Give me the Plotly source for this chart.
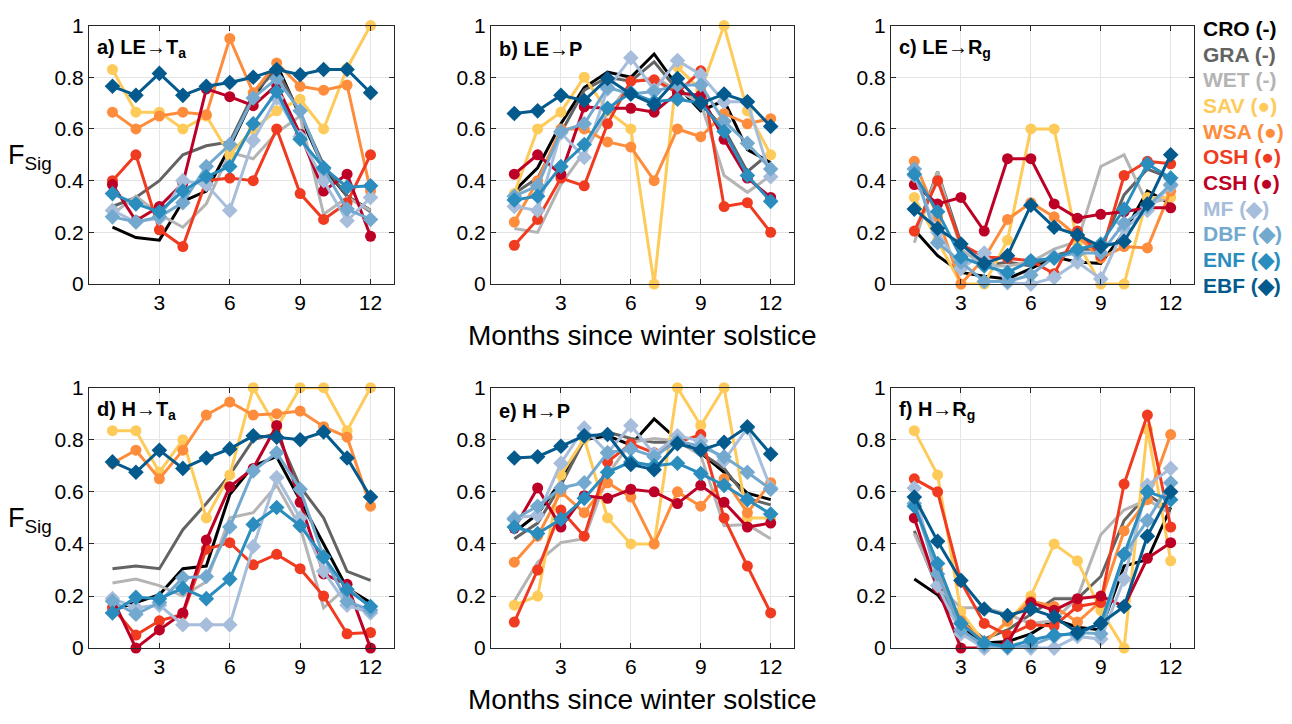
import plotly.graph_objects as go

months = list(range(1, 13))
classes = ["CRO", "GRA", "WET", "SAV", "WSA", "OSH", "CSH", "MF", "DBF", "ENF", "EBF"]
legend_labels = ["CRO (-)", "GRA (-)", "WET (-)", "SAV (●)", "WSA (●)", "OSH (●)",
                 "CSH (●)", "MF (◆)", "DBF (◆)", "ENF (◆)", "EBF (◆)"]
colors = ["#000000", "#636363", "#b4b4b4", "#fecb5a", "#fd8d3c", "#f03b20",
          "#bd0026", "#a6bddb", "#74a9cf", "#2b8cbe", "#045a8d"]
symbols = [None, None, None, "circle", "circle", "circle", "circle",
           "diamond", "diamond", "diamond", "diamond"]
xticks = [3, 6, 9, 12]
yticks = [0, 0.2, 0.4, 0.6, 0.8, 1]
panel_titles = ["a) LE→T<sub>a</sub>", "b) LE→P", "c) LE→R<sub>g</sub>",
                "d) H→T<sub>a</sub>", "e) H→P", "f) H→R<sub>g</sub>"]
x_title = "Months since winter solstice"
y_title = "F<sub>Sig</sub>"

# a) LE -> Ta
le_ta = {
    "CRO": [0.22, 0.18, 0.17, 0.32, 0.36, 0.53, 0.72, 0.85, 0.65, 0.45, 0.34, 0.285],
    "GRA": [0.30, 0.335, 0.40, 0.50, 0.535, 0.55, 0.735, 0.83, 0.66, 0.46, 0.34, 0.28],
    "WET": [0.27, 0.34, 0.27, 0.22, 0.31, 0.51, 0.485, 0.585, 0.65, 0.27, 0.335, 0.285],
    "SAV": [0.83, 0.665, 0.665, 0.60, 0.65, 0.50, 0.60, 0.67, 0.715, 0.60, 0.835, 1.0],
    "WSA": [0.665, 0.60, 0.65, 0.665, 0.655, 0.95, 0.74, 0.855, 0.765, 0.75, 0.77, 0.36],
    "OSH": [0.40, 0.50, 0.21, 0.145, 0.40, 0.41, 0.40, 0.60, 0.35, 0.25, 0.315, 0.50],
    "CSH": [0.385, 0.245, 0.30, 0.39, 0.755, 0.725, 0.69, 0.77, 0.58, 0.36, 0.425, 0.185],
    "MF":  [0.285, 0.24, 0.255, 0.40, 0.385, 0.285, 0.555, 0.72, 0.57, 0.40, 0.245, 0.335],
    "DBF": [0.26, 0.24, 0.26, 0.315, 0.455, 0.54, 0.72, 0.795, 0.67, 0.445, 0.29, 0.25],
    "ENF": [0.35, 0.31, 0.28, 0.36, 0.415, 0.455, 0.62, 0.745, 0.56, 0.45, 0.375, 0.38],
    "EBF": [0.765, 0.73, 0.815, 0.73, 0.765, 0.78, 0.80, 0.83, 0.81, 0.83, 0.83, 0.74],
}

# b) LE -> P
le_p = {
    "CRO": [0.36, 0.45, 0.62, 0.76, 0.82, 0.80, 0.89, 0.765, 0.67, 0.71, 0.52, 0.47],
    "GRA": [0.35, 0.41, 0.585, 0.75, 0.80, 0.785, 0.86, 0.75, 0.70, 0.60, 0.435, 0.51],
    "WET": [0.215, 0.20, 0.385, 0.51, 0.66, 0.78, 0.80, 0.75, 0.70, 0.42, 0.355, 0.42],
    "SAV": [0.35, 0.60, 0.665, 0.80, 0.67, 0.60, 0.0, 0.84, 0.75, 1.0, 0.67, 0.50],
    "WSA": [0.24, 0.40, 0.60, 0.60, 0.55, 0.53, 0.40, 0.60, 0.57, 0.66, 0.62, 0.64],
    "OSH": [0.15, 0.25, 0.41, 0.38, 0.62, 0.785, 0.79, 0.74, 0.825, 0.30, 0.315, 0.20],
    "CSH": [0.425, 0.50, 0.425, 0.685, 0.68, 0.68, 0.665, 0.74, 0.73, 0.56, 0.41, 0.335],
    "MF":  [0.30, 0.285, 0.585, 0.49, 0.755, 0.875, 0.75, 0.865, 0.81, 0.705, 0.705, 0.415],
    "DBF": [0.34, 0.38, 0.59, 0.62, 0.76, 0.735, 0.745, 0.77, 0.77, 0.63, 0.545, 0.445],
    "ENF": [0.325, 0.34, 0.455, 0.54, 0.68, 0.74, 0.705, 0.715, 0.70, 0.59, 0.42, 0.32],
    "EBF": [0.66, 0.67, 0.73, 0.71, 0.795, 0.735, 0.695, 0.795, 0.70, 0.735, 0.705, 0.61],
}

# c) LE -> Rg
le_rg = {
    "CRO": [0.21, 0.11, 0.045, 0.03, 0.02, 0.06, 0.105, 0.085, 0.08, 0.20, 0.36, 0.31],
    "GRA": [0.185, 0.435, 0.16, 0.07, 0.085, 0.07, 0.11, 0.135, 0.135, 0.345, 0.445, 0.41],
    "WET": [0.16, 0.435, 0.135, 0.07, 0.07, 0.085, 0.135, 0.165, 0.455, 0.50, 0.31, 0.335],
    "SAV": [0.335, 0.17, 0.0, 0.0, 0.17, 0.60, 0.60, 0.16, 0.0, 0.0, 0.335, 0.335],
    "WSA": [0.475, 0.26, 0.0, 0.10, 0.25, 0.315, 0.26, 0.185, 0.10, 0.145, 0.14, 0.36],
    "OSH": [0.205, 0.40, 0.155, 0.105, 0.10, 0.09, 0.04, 0.205, 0.11, 0.42, 0.475, 0.465],
    "CSH": [0.385, 0.31, 0.335, 0.205, 0.485, 0.485, 0.31, 0.255, 0.27, 0.28, 0.295, 0.295],
    "MF":  [0.42, 0.20, 0.06, 0.12, 0.005, 0.0, 0.025, 0.085, 0.02, 0.215, 0.285, 0.38],
    "DBF": [0.445, 0.16, 0.085, 0.01, 0.01, 0.035, 0.105, 0.12, 0.12, 0.235, 0.30, 0.385],
    "ENF": [0.425, 0.28, 0.105, 0.07, 0.045, 0.09, 0.10, 0.135, 0.155, 0.29, 0.465, 0.41],
    "EBF": [0.29, 0.215, 0.155, 0.08, 0.11, 0.305, 0.22, 0.19, 0.145, 0.165, 0.31, 0.50],
}

# d) H -> Ta
h_ta = {
    "CRO": [0.145, 0.175, 0.205, 0.305, 0.315, 0.59, 0.70, 0.735, 0.57, 0.40, 0.23, 0.175],
    "GRA": [0.305, 0.315, 0.305, 0.455, 0.555, 0.665, 0.80, 0.825, 0.62, 0.50, 0.295, 0.26],
    "WET": [0.25, 0.265, 0.24, 0.20, 0.255, 0.50, 0.52, 0.625, 0.465, 0.155, 0.235, 0.155],
    "SAV": [0.835, 0.835, 0.675, 0.80, 0.50, 0.665, 1.0, 0.845, 1.0, 1.0, 0.835, 1.0],
    "WSA": [0.71, 0.76, 0.65, 0.76, 0.895, 0.945, 0.895, 0.90, 0.91, 0.85, 0.81, 0.545],
    "OSH": [0.155, 0.05, 0.105, 0.13, 0.38, 0.405, 0.32, 0.36, 0.305, 0.20, 0.055, 0.06],
    "CSH": [0.19, 0.0, 0.07, 0.135, 0.415, 0.62, 0.69, 0.855, 0.56, 0.285, 0.245, 0.0],
    "MF":  [0.19, 0.155, 0.165, 0.09, 0.09, 0.09, 0.39, 0.655, 0.50, 0.295, 0.165, 0.135],
    "DBF": [0.18, 0.13, 0.175, 0.27, 0.275, 0.465, 0.68, 0.75, 0.61, 0.35, 0.18, 0.145],
    "ENF": [0.135, 0.195, 0.19, 0.23, 0.19, 0.265, 0.475, 0.54, 0.47, 0.35, 0.225, 0.16],
    "EBF": [0.715, 0.675, 0.76, 0.69, 0.73, 0.765, 0.815, 0.81, 0.80, 0.83, 0.73, 0.58],
}

# e) H -> P
h_p = {
    "CRO": [0.445, 0.515, 0.64, 0.80, 0.815, 0.78, 0.88, 0.80, 0.75, 0.675, 0.595, 0.57],
    "GRA": [0.42, 0.48, 0.625, 0.80, 0.83, 0.805, 0.79, 0.79, 0.75, 0.69, 0.575, 0.55],
    "WET": [0.18, 0.33, 0.405, 0.42, 0.665, 0.79, 0.805, 0.795, 0.74, 0.47, 0.475, 0.42],
    "SAV": [0.165, 0.20, 0.665, 0.805, 0.50, 0.40, 0.40, 1.0, 0.855, 1.0, 0.50, 0.50],
    "WSA": [0.33, 0.43, 0.60, 0.52, 0.635, 0.58, 0.40, 0.60, 0.545, 0.65, 0.52, 0.635],
    "OSH": [0.10, 0.30, 0.53, 0.43, 0.715, 0.785, 0.75, 0.79, 0.82, 0.50, 0.315, 0.135],
    "CSH": [0.46, 0.615, 0.465, 0.585, 0.575, 0.61, 0.60, 0.555, 0.625, 0.56, 0.465, 0.48],
    "MF":  [0.50, 0.51, 0.71, 0.845, 0.75, 0.855, 0.745, 0.815, 0.795, 0.72, 0.845, 0.615],
    "DBF": [0.495, 0.545, 0.615, 0.635, 0.75, 0.765, 0.735, 0.795, 0.775, 0.735, 0.675, 0.61],
    "ENF": [0.465, 0.44, 0.495, 0.575, 0.675, 0.715, 0.70, 0.71, 0.67, 0.625, 0.57, 0.515],
    "EBF": [0.73, 0.735, 0.775, 0.815, 0.82, 0.705, 0.685, 0.785, 0.76, 0.79, 0.85, 0.745],
}

# f) H -> Rg
h_rg = {
    "CRO": [0.265, 0.205, 0.08, 0.02, 0.025, 0.055, 0.11, 0.08, 0.07, 0.315, 0.34, 0.54],
    "GRA": [0.45, 0.23, 0.105, 0.035, 0.07, 0.13, 0.19, 0.19, 0.275, 0.49, 0.59, 0.53],
    "WET": [0.44, 0.24, 0.155, 0.155, 0.13, 0.095, 0.105, 0.195, 0.435, 0.53, 0.57, 0.515],
    "SAV": [0.835, 0.665, 0.14, 0.02, 0.10, 0.20, 0.40, 0.335, 0.145, 0.0, 0.84, 0.335],
    "WSA": [0.57, 0.30, 0.105, 0.02, 0.105, 0.18, 0.16, 0.10, 0.18, 0.45, 0.57, 0.82],
    "OSH": [0.65, 0.60, 0.255, 0.095, 0.05, 0.09, 0.085, 0.16, 0.175, 0.63, 0.895, 0.465],
    "CSH": [0.50, 0.23, 0.0, 0.0, 0.02, 0.175, 0.145, 0.19, 0.20, 0.16, 0.345, 0.405],
    "MF":  [0.615, 0.24, 0.055, 0.0, 0.0, 0.0, 0.0, 0.045, 0.035, 0.265, 0.625, 0.69],
    "DBF": [0.555, 0.285, 0.07, 0.01, 0.005, 0.01, 0.045, 0.06, 0.055, 0.36, 0.49, 0.635],
    "ENF": [0.545, 0.325, 0.095, 0.02, 0.005, 0.03, 0.05, 0.055, 0.095, 0.36, 0.60, 0.57],
    "EBF": [0.58, 0.41, 0.26, 0.15, 0.125, 0.15, 0.12, 0.06, 0.095, 0.16, 0.43, 0.60],
}

panels = [le_ta, le_p, le_rg, h_ta, h_p, h_rg]

W, H = 1292, 724
FONT = "Liberation Sans, Arial, Helvetica, sans-serif"

# axis boxes in pixels (x0, x1) and (ytop, ybottom)
col_px = [(89, 394), (491, 794), (891, 1194)]
row_px = [(14, 281), (388, 657)]

fig = go.Figure()
layout = {}
for i, data in enumerate(panels):
    r, c = divmod(i, 3)
    k = "" if i == 0 else str(i + 1)
    x0, x1 = col_px[c]
    yt, yb = row_px[r]
    common = dict(
        showgrid=True, gridcolor="#e4e4e4", gridwidth=1,
        zeroline=False, showline=True, linecolor="#262626", linewidth=1,
        mirror="ticks", ticks="inside", ticklen=5, tickcolor="#262626",
        tickfont=dict(size=21, color="#000", family=FONT),
    )
    layout["xaxis" + k] = dict(
        domain=[x0 / W, x1 / W], anchor="y" + k, range=[0, 13],
        tickvals=xticks, **common,
    )
    layout["yaxis" + k] = dict(
        domain=[1 - yb / H, 1 - yt / H], anchor="x" + k, range=[0, 1],
        tickvals=yticks, ticktext=["0", "0.2", "0.4", "0.6", "0.8", "1"],
        **common,
    )
    for j, cls in enumerate(classes):
        sym = symbols[j]
        fig.add_trace(go.Scatter(
            x=months, y=data[cls], xaxis="x" + k, yaxis="y" + k,
            mode="lines" if sym is None else "lines+markers",
            line=dict(color=colors[j], width=3),
            marker=dict(symbol=sym or "circle", size=12 if sym == "diamond" else 11,
                        color=colors[j], line=dict(width=0)),
            cliponaxis=False, showlegend=False, name=cls,
        ))

annotations = []
for i, t in enumerate(panel_titles):
    r, c = divmod(i, 3)
    x0, _ = col_px[c]
    yt, _ = row_px[r]
    annotations.append(dict(
        text="<b>" + t + "</b>", xref="paper", yref="paper",
        x=(x0 + 6) / W, y=1 - (yt + 24) / H, xanchor="left", yanchor="middle",
        showarrow=False, font=dict(size=20, color="#000", family=FONT),
    ))
for r, (yt, yb) in enumerate(row_px):
    annotations.append(dict(
        text=x_title, xref="paper", yref="paper",
        x=(col_px[1][0] + col_px[1][1]) / 2 / W, y=1 - (yb + 53) / H,
        xanchor="center", yanchor="middle", showarrow=False,
        font=dict(size=28, color="#000", family=FONT),
    ))
    annotations.append(dict(
        text=y_title, xref="paper", yref="paper",
        x=30 / W, y=1 - ((yt + yb) / 2 + 2) / H, xanchor="center", yanchor="middle",
        showarrow=False, font=dict(size=27, color="#000", family=FONT),
    ))
for j, lab in enumerate(legend_labels):
    annotations.append(dict(
        text="<b>" + lab + "</b>", xref="paper", yref="paper",
        x=1201 / W, y=1 - (17 + 26.5 * j) / H, xanchor="left", yanchor="middle",
        showarrow=False, font=dict(size=21, color=colors[j], family=FONT),
    ))

fig.update_layout(
    width=W, height=H, autosize=False,
    margin=dict(l=0, r=0, t=0, b=0),
    paper_bgcolor="white", plot_bgcolor="white",
    annotations=annotations, showlegend=False,
    font=dict(family=FONT),
    **layout,
)

fig.write_html("out.html", config={"displayModeBar": False},
               post_script="document.body.style.margin='0';")
